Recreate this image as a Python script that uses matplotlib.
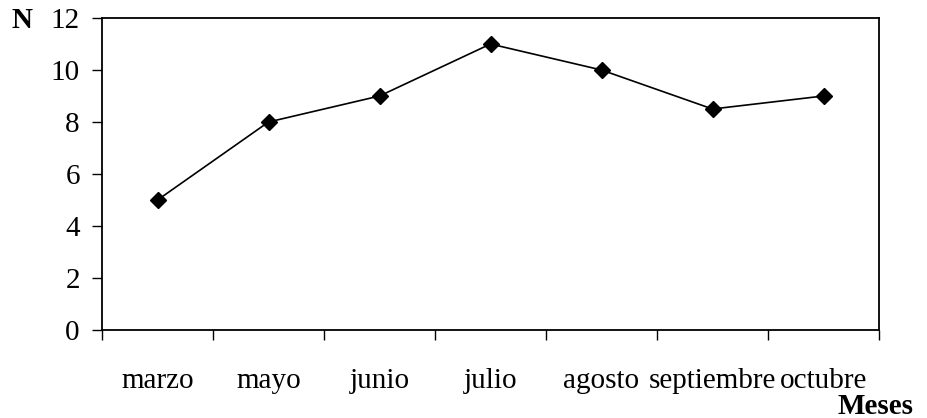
import numpy as np
import matplotlib.pyplot as plt

meses = ['marzo', 'mayo', 'junio', 'julio', 'agosto', 'septiembre', 'octubre']
n_valores = [5, 8, 9, 11, 10, 8.5, 9]
y_ticks = [0, 2, 4, 6, 8, 10, 12]

plt.rcParams['font.family'] = ['Liberation Serif', 'DejaVu Serif']
fs = 21

fig = plt.figure(figsize=(9.27, 4.18), dpi=100)
ax = fig.add_axes([102 / 927, 1 - 330 / 418, 777 / 927, 312 / 418])

x = np.arange(len(meses))
ax.plot(x, n_valores, color='black', linewidth=1.2, marker='D',
        markersize=8, markerfacecolor='black', markeredgecolor='black')

ax.set_xlim(-0.5, len(meses) - 0.5)
ax.set_ylim(0, 12)
ax.set_yticks(y_ticks)
ax.tick_params(axis='y', direction='out', length=7, width=1, labelsize=fs, pad=9)

# category labels centred, ticks drawn between categories
ax.set_xticks(x)
ax.set_xticklabels(meses)
ax.tick_params(axis='x', which='major', length=0, labelsize=fs, pad=27)
ax.set_xticks(np.arange(len(meses) + 1) - 0.5, minor=True)
ax.tick_params(axis='x', which='minor', direction='out', length=7, width=1)

for s in ax.spines.values():
    s.set_linewidth(1.3)

fig.text(12 / 927, 1 - 21 / 418, 'N', fontsize=fs, fontweight='bold',
         va='center', ha='left')
fig.text(913 / 927, 1 - 406 / 418, 'Meses', fontsize=fs, fontweight='bold',
         va='center', ha='right')

fig.savefig('out.png', dpi=100)
